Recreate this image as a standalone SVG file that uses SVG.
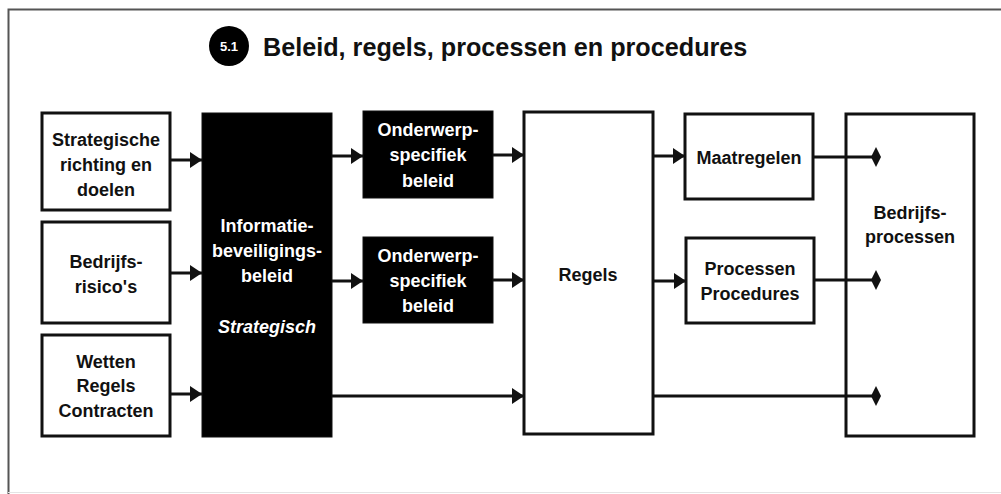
<svg xmlns="http://www.w3.org/2000/svg" width="1001" height="494" viewBox="0 0 1001 494">
  <style>
    text { font-family: "Liberation Sans", Arial, sans-serif; font-weight: bold; text-anchor: middle; }
    .lbl { font-size: 18px; fill: #111; }
    .inv { font-size: 18px; fill: #fff; }
    .box { fill: #fff; stroke: #111; stroke-width: 3; }
    .dark { fill: #000; stroke: #111; stroke-width: 1; }
    .wire { fill: none; stroke: #111; stroke-width: 3; }
  </style>
  <defs>
    <marker id="arrow" markerWidth="12" markerHeight="16" refX="12" refY="8" orient="auto" markerUnits="userSpaceOnUse">
      <path d="M0,0 L12,8 L0,16 Z" fill="#111"/>
    </marker>
    <marker id="diamond" markerWidth="10" markerHeight="20" refX="5" refY="10" orient="auto" markerUnits="userSpaceOnUse">
      <path d="M5,0 L10,10 L5,20 L0,10 Z" fill="#111"/>
    </marker>
  </defs>

  <rect width="1001" height="494" fill="#fff"/>
  <!-- frame -->
  <path d="M8.5,494 V9.5 H1001" fill="none" stroke="#555" stroke-width="2"/>
  <line x1="8" y1="492.5" x2="1001" y2="492.5" stroke="#e4e4e4" stroke-width="1"/>

  <!-- heading -->
  <g id="title">
    <circle cx="229" cy="46" r="20" fill="#000"/>
    <text x="229" y="51" style="font-size:13px;fill:#fff">5.1</text>
    <text x="263" y="56" style="font-size:25.2px;fill:#111;text-anchor:start">Beleid, regels, processen en procedures</text>
  </g>

  <g id="strategische-richting">
    <rect class="box" x="42" y="113" width="128" height="97"/>
    <text class="lbl" x="106" y="146">Strategische</text>
    <text class="lbl" x="106" y="171">richting en</text>
    <text class="lbl" x="106" y="196">doelen</text>
  </g>
  <g id="bedrijfsrisicos">
    <rect class="box" x="42" y="222" width="128" height="101"/>
    <text class="lbl" x="106" y="268">Bedrijfs-</text>
    <text class="lbl" x="106" y="293">risico's</text>
  </g>
  <g id="wetten">
    <rect class="box" x="42" y="335" width="128" height="101"/>
    <text class="lbl" x="106" y="368">Wetten</text>
    <text class="lbl" x="106" y="392">Regels</text>
    <text class="lbl" x="106" y="417">Contracten</text>
  </g>
  <g id="informatiebeveiligingsbeleid">
    <rect class="dark" x="202" y="113" width="130" height="324"/>
    <text class="inv" x="267" y="232">Informatie-</text>
    <text class="inv" x="267" y="257">beveiligings-</text>
    <text class="inv" x="267" y="282">beleid</text>
    <text class="inv" x="267" y="333" style="font-style:italic">Strategisch</text>
  </g>
  <g id="onderwerp-1">
    <rect class="dark" x="363" y="111" width="130" height="87"/>
    <text class="inv" x="428" y="136">Onderwerp-</text>
    <text class="inv" x="428" y="161">specifiek</text>
    <text class="inv" x="428" y="187">beleid</text>
  </g>
  <g id="onderwerp-2">
    <rect class="dark" x="363" y="237" width="130" height="86"/>
    <text class="inv" x="428" y="262">Onderwerp-</text>
    <text class="inv" x="428" y="287">specifiek</text>
    <text class="inv" x="428" y="312">beleid</text>
  </g>
  <g id="regels">
    <rect class="box" x="524" y="112" width="129" height="322"/>
    <text class="lbl" x="588" y="281">Regels</text>
  </g>
  <g id="maatregelen">
    <rect class="box" x="685" y="114" width="128" height="85"/>
    <text class="lbl" x="749" y="164">Maatregelen</text>
  </g>
  <g id="processen-procedures">
    <rect class="box" x="686" y="238" width="128" height="85"/>
    <text class="lbl" x="750" y="275">Processen</text>
    <text class="lbl" x="750" y="300">Procedures</text>
  </g>
  <g id="bedrijfsprocessen">
    <rect class="box" x="846" y="114" width="128" height="322"/>
    <text class="lbl" x="910" y="219">Bedrijfs-</text>
    <text class="lbl" x="910" y="243">processen</text>
  </g>

  <!-- connectors, drawn last so the ones ending inside Bedrijfsprocessen stay visible -->
  <g id="connectors">
    <line class="wire" x1="170" y1="160" x2="202" y2="160" marker-end="url(#arrow)"/>
    <line class="wire" x1="170" y1="273" x2="202" y2="273" marker-end="url(#arrow)"/>
    <line class="wire" x1="170" y1="394" x2="202" y2="394" marker-end="url(#arrow)"/>
    <line class="wire" x1="332" y1="156" x2="363" y2="156" marker-end="url(#arrow)"/>
    <line class="wire" x1="332" y1="281" x2="363" y2="281" marker-end="url(#arrow)"/>
    <line class="wire" x1="332" y1="396" x2="524" y2="396" marker-end="url(#arrow)"/>
    <line class="wire" x1="493" y1="155" x2="524" y2="155" marker-end="url(#arrow)"/>
    <line class="wire" x1="493" y1="280" x2="524" y2="280" marker-end="url(#arrow)"/>
    <line class="wire" x1="653" y1="156" x2="685" y2="156" marker-end="url(#arrow)"/>
    <line class="wire" x1="653" y1="281" x2="686" y2="281" marker-end="url(#arrow)"/>
    <line class="wire" x1="813" y1="157" x2="876" y2="157" marker-end="url(#diamond)"/>
    <line class="wire" x1="814" y1="280" x2="876" y2="280" marker-end="url(#diamond)"/>
    <line class="wire" x1="653" y1="396" x2="876" y2="396" marker-end="url(#diamond)"/>
  </g>
</svg>
